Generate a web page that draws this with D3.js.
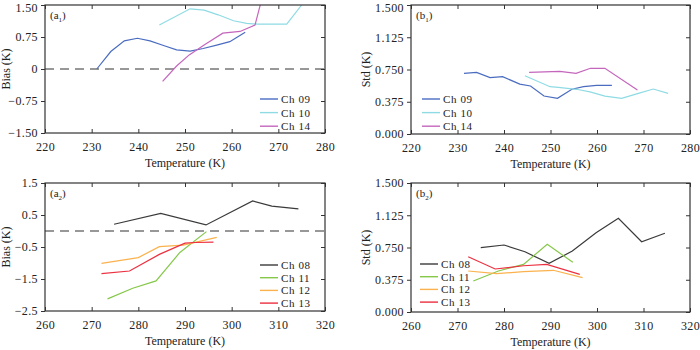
<!DOCTYPE html>
<html>
<head>
<meta charset="utf-8">
<script src="https://cdn.jsdelivr.net/npm/d3@7"></script>
<style>
  body { margin: 0; background: #fff; }
  svg { font-family: "Liberation Serif", "Times New Roman", serif; }
</style>
</head>
<body>
<svg id="chart" width="700" height="350"></svg>
<script>
// channel names per row
const topChannels = ["Ch 09", "Ch 10", "Ch 14"];
const bottomChannels = ["Ch 08", "Ch 11", "Ch 12", "Ch 13"];

// bias (a1) : [temperature, bias]
const biasCh09 = [[231.1, 0], [234.1, 0.41], [237.0, 0.66], [239.8, 0.72], [242.5, 0.66], [245.4, 0.55],
  [248.2, 0.45], [251.1, 0.42], [253.9, 0.48], [256.8, 0.56], [259.6, 0.64], [262.9, 0.86]];
const biasCh10 = [[244.5, 1.03], [251.1, 1.41], [254.1, 1.38], [257.1, 1.27], [260.4, 1.13], [263.2, 1.07],
  [265.7, 1.05], [271.8, 1.05], [275.0, 1.50]];
const biasCh14 = [[245.2, -0.29], [248.2, 0.07], [250.9, 0.33], [254.1, 0.56], [258.1, 0.84], [261.8, 0.88],
  [265.0, 1.03], [266.6, 1.70]];

// std (b1)
const stdCh09 = [[231.4, 0.706], [234.1, 0.717], [237.0, 0.655], [239.7, 0.667], [243.4, 0.58], [245.7, 0.558],
  [248.6, 0.442], [251.5, 0.415], [254.6, 0.52], [257.1, 0.55], [259.9, 0.566], [263.2, 0.566]];
const stdCh10 = [[244.5, 0.678], [249.9, 0.55], [251.7, 0.543], [255.6, 0.52], [258.5, 0.49], [261.7, 0.44],
  [265.3, 0.415], [268.9, 0.473], [272.1, 0.523], [275.3, 0.473]];
const stdCh14 = [[245.4, 0.717], [252.0, 0.729], [255.5, 0.706], [258.6, 0.764], [261.7, 0.764], [268.7, 0.512]];

// bias (a2)
const biasCh08 = [[274.8, 0.21], [284.8, 0.55], [294.5, 0.19], [304.5, 0.94], [308.6, 0.78], [314.3, 0.69]];
const biasCh11 = [[273.4, -2.12], [278.8, -1.79], [283.8, -1.56], [288.9, -0.67], [294.6, -0.02]];
const biasCh12 = [[272.1, -1.01], [280.0, -0.83], [284.5, -0.49], [289.6, -0.44], [296.8, -0.20]];
const biasCh13 = [[272.1, -1.33], [278.1, -1.25], [284.5, -0.73], [290.0, -0.38], [292.1, -0.36], [296.1, -0.35]];

// std (b2)
const stdCh08 = [[275.0, 0.748], [280.0, 0.779], [284.5, 0.70], [289.7, 0.566], [294.7, 0.709], [299.8, 0.922],
  [304.6, 1.09], [309.6, 0.817], [314.6, 0.915]];
const stdCh11 = [[273.4, 0.36], [278.8, 0.477], [284.2, 0.554], [289.3, 0.787], [294.8, 0.578]];
const stdCh12 = [[272.3, 0.477], [278.4, 0.446], [284.2, 0.469], [290.6, 0.485], [296.9, 0.40]];
const stdCh13 = [[272.3, 0.643], [278.1, 0.50], [284.2, 0.538], [289.2, 0.554], [296.3, 0.438]];

// tick labels
const xTicksTop = [220, 230, 240, 250, 260, 270, 280];
const xTicksBottom = [260, 270, 280, 290, 300, 310, 320];
const biasTicksTop = [-1.5, -0.75, 0, 0.75, 1.5];
const biasTicksBottom = [-2.5, -1.5, -0.5, 0.5, 1.5];
const stdTicks = [0, 0.375, 0.75, 1.125, 1.5];

const colors = {
  "Ch 08": "#3a3a3a",
  "Ch 09": "#4a6cc0",
  "Ch 10": "#8fdbe4",
  "Ch 11": "#86c84a",
  "Ch 12": "#fbb24e",
  "Ch 13": "#ec3040",
  "Ch 14": "#c466bc"
};

const panels = [
  { id: "a1", tag: "a", sub: "1", x0: 45, x1: 325, y0: 5, y1: 133, xDom: [220, 280], yDom: [-1.5, 1.5],
    xTicks: xTicksTop, yTicks: biasTicksTop, yFmt: d => d === 0 ? "0" : d3.format(".2f")(d).replace("-", "\u2212"),
    yTitle: "Bias (K)", titleDx: 35, zero: true, names: topChannels, series: [biasCh09, biasCh10, biasCh14],
    legend: { x: 260, y: 99, step: 13.6 } },
  { id: "b1", tag: "b", sub: "1", x0: 411, x1: 690, y0: 5, y1: 134, xDom: [220, 280], yDom: [0, 1.5],
    xTicks: xTicksTop, yTicks: stdTicks, yFmt: d3.format(".3f"),
    yTitle: "Std (K)", titleDx: 41, zero: false, names: topChannels, series: [stdCh09, stdCh10, stdCh14],
    legend: { x: 422, y: 99, step: 13.6 } },
  { id: "a2", tag: "a", sub: "2", x0: 45, x1: 325, y0: 183, y1: 311, xDom: [260, 320], yDom: [-2.5, 1.5],
    xTicks: xTicksBottom, yTicks: biasTicksBottom, yFmt: d => d3.format(".1f")(d).replace("-", "\u2212"),
    yTitle: "Bias (K)", titleDx: 35, zero: true, names: bottomChannels, series: [biasCh08, biasCh11, biasCh12, biasCh13],
    legend: { x: 260, y: 265, step: 12.7 } },
  { id: "b2", tag: "b", sub: "2", x0: 411, x1: 690, y0: 183, y1: 312, xDom: [260, 320], yDom: [0, 1.5],
    xTicks: xTicksBottom, yTicks: stdTicks, yFmt: d3.format(".3f"),
    yTitle: "Std (K)", titleDx: 41, zero: false, names: bottomChannels, series: [stdCh08, stdCh11, stdCh12, stdCh13],
    legend: { x: 420, y: 264, step: 12.7 } }
];

const svg = d3.select("#chart");
const frameColor = "#333";
const textColor = "#222";

panels.forEach(p => {
  const x = d3.scaleLinear().domain(p.xDom).range([p.x0, p.x1]);
  const y = d3.scaleLinear().domain(p.yDom).range([p.y1, p.y0]);
  const g = svg.append("g");

  g.append("clipPath").attr("id", "clip-" + p.id)
    .append("rect")
    .attr("x", p.x0).attr("y", p.y0)
    .attr("width", p.x1 - p.x0).attr("height", p.y1 - p.y0);

  // zero line
  if (p.zero) {
    g.append("line")
      .attr("x1", p.x0).attr("x2", p.x1)
      .attr("y1", y(0)).attr("y2", y(0))
      .attr("stroke", "#333").attr("stroke-width", 1.2)
      .attr("stroke-dasharray", "9,6");
  }

  // series
  const line = d3.line().x(d => x(d[0])).y(d => y(d[1]));
  const plot = g.append("g").attr("clip-path", `url(#clip-${p.id})`);
  p.series.forEach((s, i) => {
    plot.append("path")
      .datum(s)
      .attr("d", line)
      .attr("fill", "none")
      .attr("stroke", colors[p.names[i]])
      .attr("stroke-width", 1.2);
  });

  // axes: left ticks outward, others inward
  const left = g.append("g").attr("transform", `translate(${p.x0},0)`)
    .call(d3.axisLeft(y).tickValues(p.yTicks).tickFormat(p.yFmt).tickSize(4).tickPadding(3));
  const right = g.append("g").attr("transform", `translate(${p.x1},0)`)
    .call(d3.axisRight(y).tickValues(p.yTicks).tickSize(-4).tickFormat(""));
  const bottom = g.append("g").attr("transform", `translate(0,${p.y1})`)
    .call(d3.axisBottom(x).tickValues(p.xTicks).tickSize(-4).tickPadding(9));
  const top = g.append("g").attr("transform", `translate(0,${p.y0})`)
    .call(d3.axisTop(x).tickValues(p.xTicks).tickSize(-4).tickFormat(""));

  [left, right, bottom, top].forEach(a => {
    a.select(".domain").remove();
    a.selectAll("line").attr("stroke", frameColor).attr("stroke-width", 1);
    a.selectAll("text")
      .attr("fill", textColor)
      .style("font-size", "12px")
      .style("font-family", "'Liberation Serif', serif")
      .style("letter-spacing", "0.4px");
  });

  // keep the topmost y label inside the page
  if (p.y0 < 10) {
    left.selectAll(".tick").filter(d => d === p.yDom[1]).select("text").attr("dy", "0.55em");
  }

  // frame
  g.append("rect")
    .attr("x", p.x0).attr("y", p.y0)
    .attr("width", p.x1 - p.x0).attr("height", p.y1 - p.y0)
    .attr("fill", "none").attr("stroke", frameColor).attr("stroke-width", 1.2);

  // axis titles
  g.append("text")
    .attr("x", (p.x0 + p.x1) / 2).attr("y", p.y1 + 34)
    .attr("text-anchor", "middle")
    .attr("fill", textColor)
    .style("font-size", "12px")
    .text("Temperature (K)");

  g.append("text")
    .attr("transform", `translate(${p.x0 - p.titleDx},${(p.y0 + p.y1) / 2}) rotate(-90)`)
    .attr("text-anchor", "middle")
    .attr("fill", textColor)
    .style("font-size", "12px")
    .text(p.yTitle);

  // panel label
  const lab = g.append("text")
    .attr("x", p.x0 + 5).attr("y", p.y0 + 14)
    .attr("fill", textColor)
    .style("font-size", "11px");
  lab.append("tspan").text("(" + p.tag);
  lab.append("tspan").attr("dy", 3).style("font-size", "7px").text(p.sub);
  lab.append("tspan").attr("dy", -3).text(")");

  // legend
  p.names.forEach((n, i) => {
    const ly = p.legend.y + i * p.legend.step;
    g.append("line")
      .attr("x1", p.legend.x).attr("x2", p.legend.x + 18)
      .attr("y1", ly).attr("y2", ly)
      .attr("stroke", colors[n]).attr("stroke-width", 1.4);
    g.append("text")
      .attr("x", p.legend.x + 21).attr("y", ly + 4)
      .attr("fill", textColor)
      .style("font-size", "11px")
      .style("letter-spacing", "0.6px")
      .text(n);
  });
});
</script>
</body>
</html>
